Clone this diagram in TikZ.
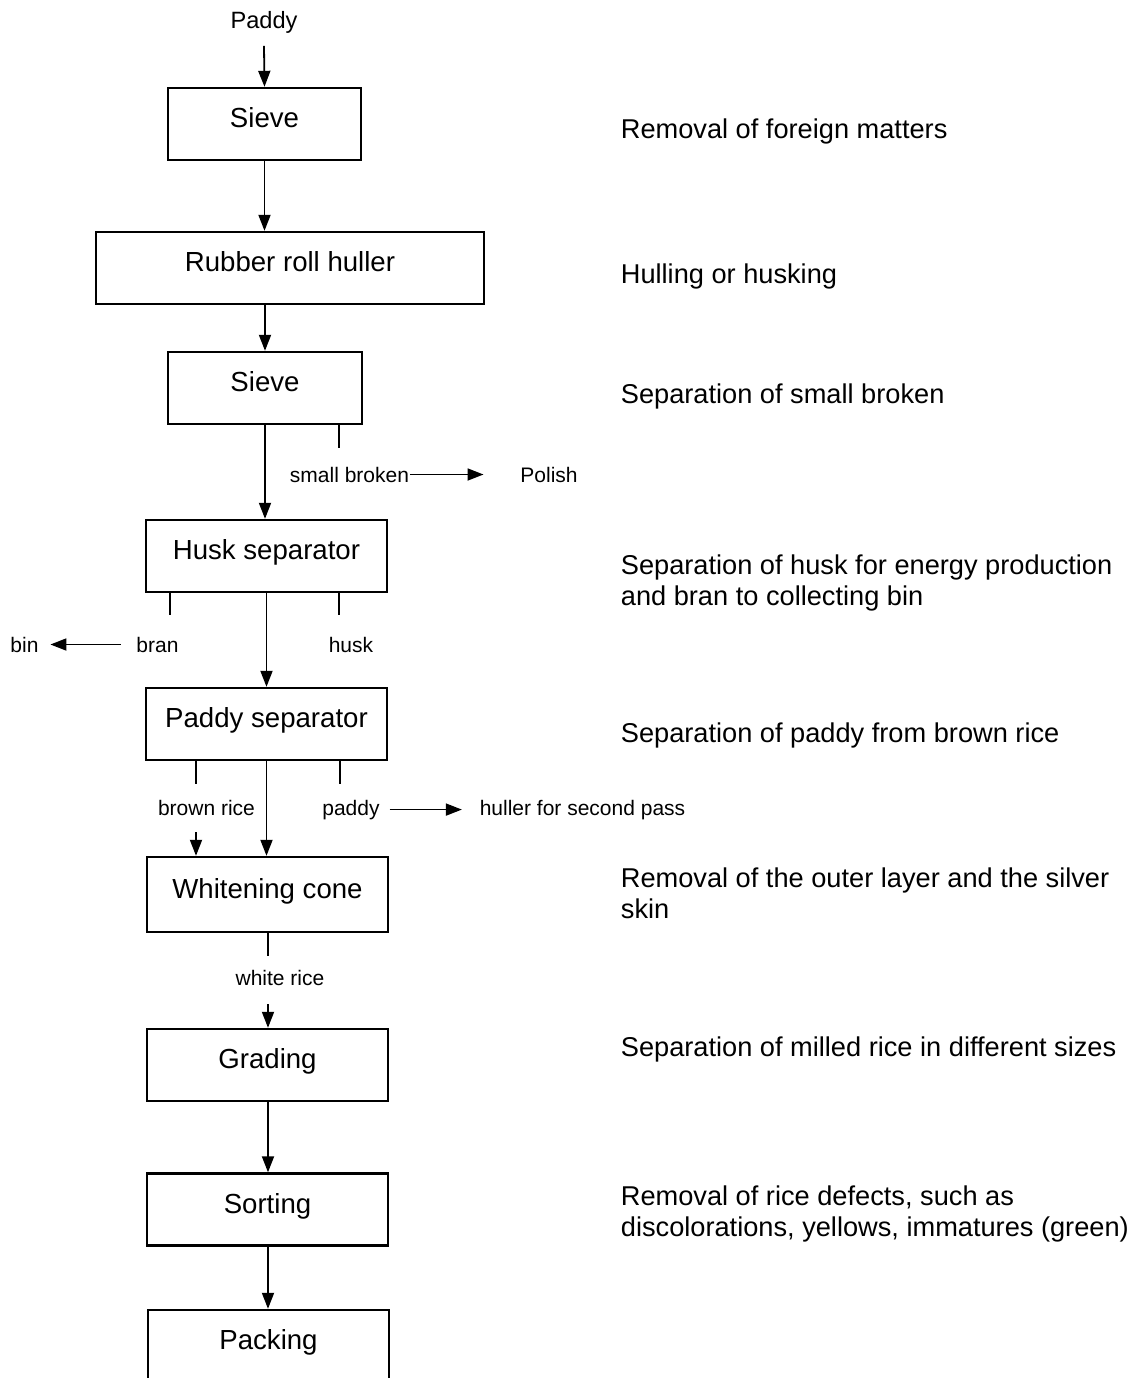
\documentclass[tikz,border=0pt]{standalone}
\usepackage{fontspec}
\setmainfont{Liberation Sans}
\usetikzlibrary{arrows.meta}

\tikzset{
  stage/.style={draw, line width=1.2pt, inner sep=0pt, minimum width=120.5pt, minimum height=36pt, text height=0.72em, text depth=0.36em, font=\fontsize{13.8}{16}\selectfont},
  note/.style={anchor=base west, align=left, inner sep=0pt, font=\fontsize{13.6}{15.3}\selectfont},
  tag/.style={anchor=base, inner sep=0pt, font=\fontsize{10.5}{12}\selectfont},
  flow/.style={->, line width=0.9pt},
  >={Triangle[length=8pt,width=6pt]}
}

\begin{document}
\begin{tikzpicture}[x=0.5pt, y=-0.5pt, line width=0.9pt]
    \useasboundingbox (0,0) rectangle (1134,1378);
    % stages
    \node[stage, minimum width=96.5pt] (sieveA) at (264.5,124) {Sieve};
    \node[stage, minimum width=194pt] (huller) at (290,268) {Rubber roll huller};
    \node[stage, minimum width=97pt] (sieveB) at (265,388) {Sieve};
    \node[stage] (husksep) at (266.5,556) {Husk separator};
    \node[stage] (paddysep) at (266.5,724) {Paddy separator};
    \node[stage, minimum height=37.5pt] (whitening) at (267.5,894.5) {Whitening cone};
    \node[stage] (grading) at (267.5,1065) {Grading};
    \node[stage] (sorting) at (267.5,1209.5) {Sorting};
    \node[stage] (packing) at (268.5,1346) {Packing};

    % side streams
    \node[tag, font=\fontsize{11.8}{13}\selectfont] (paddyin) at (264,28) {Paddy};
    \node[tag] (smallbroken) at (349.5,482) {small broken};
    \node[tag] (polish) at (549,482) {Polish};
    \node[tag] (bran) at (157.5,652) {bran};
    \node[tag] (bin) at (24.5,652) {bin};
    \node[tag] (husk) at (351,652) {husk};
    \node[tag] (brownrice) at (206.5,815) {brown rice};
    \node[tag] (paddyout) at (351,815) {paddy};
    \node[tag] (secondpass) at (582.5,815) {huller for second pass};
    \node[tag] (whiterice) at (280,985) {white rice};

    \coordinate (brokentick) at (339,448);
    \coordinate (brantick) at (170,615);
    \coordinate (husktick) at (339,615);
    \coordinate (browntick) at (196,784);
    \coordinate (paddytick) at (340,784);
    \coordinate (browntop) at (196,832);
    \coordinate (whiteout) at (268,956);
    \coordinate (whitein) at (268,1004);

    % main line
    \draw[flow] ([yshift=-6pt]paddyin.south) -- (sieveA.north);
    \draw[flow] (sieveA.south) -- (sieveA.south |- huller.north);
    \draw[flow] (sieveB.north |- huller.south) -- (sieveB.north);
    \draw[flow] (sieveB.south) -- (sieveB.south |- husksep.north);
    \draw[flow] (husksep.south) -- (paddysep.north);
    \draw[flow] (paddysep.south) -- (paddysep.south |- whitening.north);
    \draw (whitening.south -| whiteout) -- (whiteout);
    \draw[flow] (whitein) -- (whitein |- grading.north);
    \draw[flow] (grading.south -| whitein) -- (whitein |- sorting.north);
    \draw[flow] (sorting.south -| whitein) -- (whitein |- packing.north);

    % branches
    \draw (brokentick |- sieveB.south) -- (brokentick);
    \draw[flow, shorten >=18pt] (smallbroken.east) -- (polish.west);
    \draw (brantick |- husksep.south) -- (brantick);
    \draw (husktick |- husksep.south) -- (husktick);
    \draw[flow, shorten <=7.5pt, shorten >=5.5pt] (bran.west) -- (bin.east);
    \draw (browntick |- paddysep.south) -- (browntick);
    \draw (paddytick |- paddysep.south) -- (paddytick);
    \draw[flow] (browntop) -- (browntop |- whitening.north);
    \draw[flow, shorten <=4.5pt, shorten >=8.5pt] (paddyout.east) -- (secondpass.west);

    % descriptions
    \node[note] (d1) at (620,138) {Removal of foreign matters};
    \node[note] (d2) at (620,283) {Hulling or husking};
    \node[note] (d3) at (620,403) {Separation of small broken};
    \node[note] (d4) at (620,605) {Separation of husk for energy production\\and bran to collecting bin};
    \node[note] (d5) at (620,742) {Separation of paddy from brown rice};
    \node[note] (d6) at (620,918) {Removal of the outer layer and the silver\\skin};
    \node[note] (d7) at (620,1056) {Separation of milled rice in different sizes};
    \node[note] (d8) at (620,1236) {Removal of rice defects, such as\\discolorations, yellows, immatures (green)};
\end{tikzpicture}
\end{document}
